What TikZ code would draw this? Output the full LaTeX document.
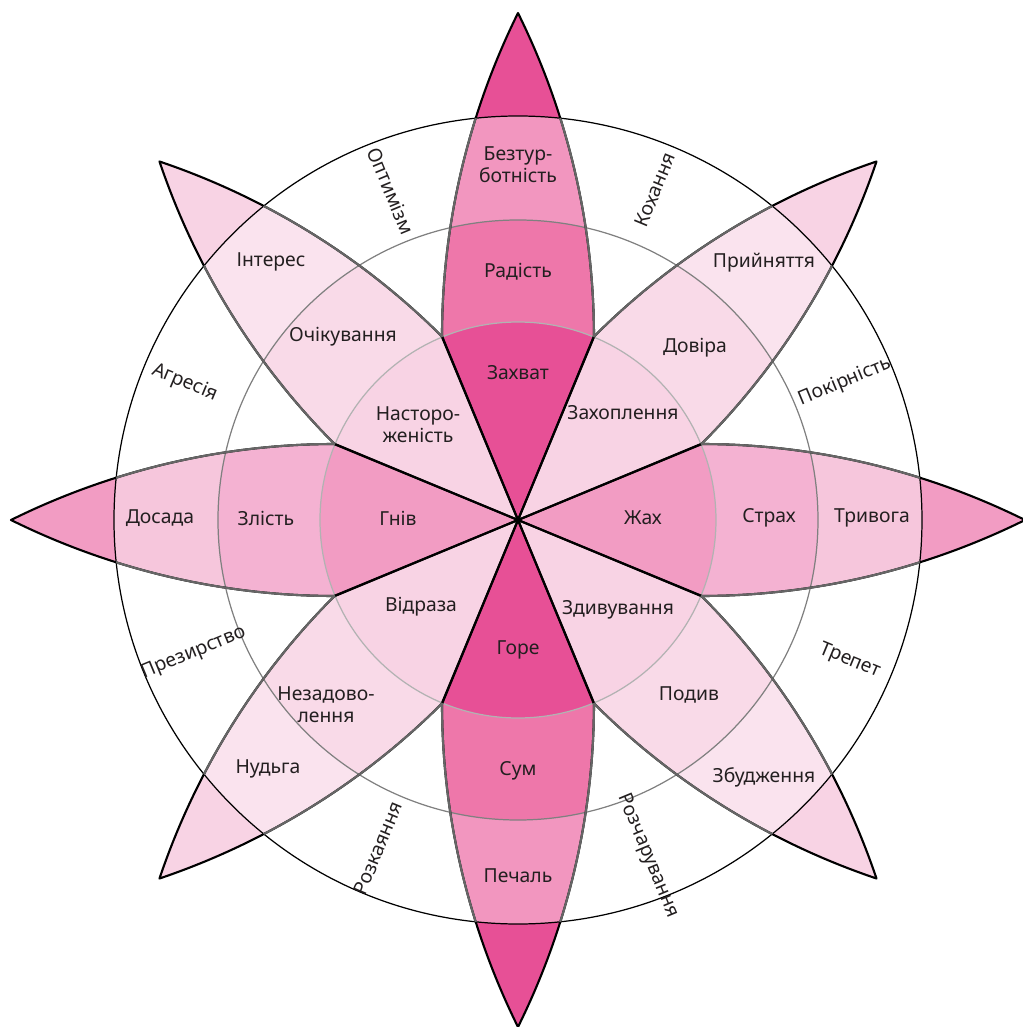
\documentclass[tikz,border=0pt]{standalone}
\usepackage{fontspec}
\setmainfont{Noto Sans}
\definecolor{ink}{HTML}{231F20}
\definecolor{vertA}{HTML}{E75096}
\definecolor{vertB}{HTML}{EE77AA}
\definecolor{vertC}{HTML}{F296BF}
\definecolor{horA}{HTML}{F29CC3}
\definecolor{horB}{HTML}{F4B2D2}
\definecolor{horC}{HTML}{F6C6DC}
\definecolor{diagA}{HTML}{F8D3E4}
\definecolor{diagB}{HTML}{F9DAE8}
\definecolor{diagC}{HTML}{FAE3EE}
\newcommand{\petal}{(0,0) -- (1.83,0.76) .. controls (2.95,0.76) and (4.06,0.50) .. (5.07,0) .. controls (4.06,-0.50) and (2.95,-0.76) .. (1.83,-0.76) -- cycle}
\newcommand{\petalrim}{(1.83,0.76) .. controls (2.95,0.76) and (4.06,0.50) .. (5.07,0) .. controls (4.06,-0.50) and (2.95,-0.76) .. (1.83,-0.76)}

\begin{document}
\begin{tikzpicture}[
  every node/.style={font=\fontsize{5.5}{6.2}\selectfont, text=ink, align=center, inner sep=0pt},
  edge/.style={line width=0.6pt, line join=round},
  ring/.style={line width=0.35pt}]
  \useasboundingbox (-5.18,-5.07) rectangle (5.05,5.20);
  \foreach \ang/\ci/\cii/\ciii in {90/vertA/vertB/vertC, 270/vertA/vertB/vertC,
      0/horA/horB/horC, 180/horA/horB/horC, 45/diagA/diagB/diagC,
      135/diagA/diagB/diagC, 225/diagA/diagB/diagC, 315/diagA/diagB/diagC} {
    \begin{scope}[rotate=\ang]
      \fill[\ci] \petal;
      \begin{scope}
        \clip \petal;
        \fill[\ciii] (0,0) circle (4.04);
        \fill[\cii] (0,0) circle (3.00);
        \fill[\ci] (0,0) circle (1.98);
      \end{scope}
    \end{scope}
  }
  \draw[ring, black!30] (0,0) circle (1.98);
  \draw[ring, black!50] (0,0) circle (3.00);
  \draw[ring, black] (0,0) circle (4.04);
  \foreach \ang in {0,45,...,315}
    \draw[edge, black, rotate=\ang] \petal;
  \begin{scope}
    \clip (0,0) circle (4.04);
    \foreach \ang in {0,45,...,315}
      \draw[edge, black!60, rotate=\ang] \petalrim;
  \end{scope}

  \node (serenity) at (0,3.55) {Безтур-\\ботність};
  \node (joy) at (0,2.48) {Радість};
  \node (ecstasy) at (0,1.47) {Захват};
  \node (vigilance) at (-1.00,0.95) {Насторо-\\женість};
  \node (anticipation) at (-1.75,1.83) {Очікування};
  \node (interest) at (-2.47,2.58) {Інтерес};
  \node (admiration) at (1.05,1.07) {Захоплення};
  \node (trust) at (1.77,1.72) {Довіра};
  \node (acceptance) at (2.46,2.57) {Прийняття};
  \node (rage) at (-1.20,0.02) {Гнів};
  \node (anger) at (-2.52,0.02) {Злість};
  \node (annoyance) at (-3.58,0.02) {Досада};
  \node (terror) at (1.25,0.02) {Жах};
  \node (fear) at (2.51,0.02) {Страх};
  \node (apprehension) at (3.54,0.02) {Тривога};
  \node (loathing) at (-0.97,-0.87) {Відраза};
  \node (disgust) at (-1.92,-1.85) {Незадово-\\лення};
  \node (boredom) at (-2.50,-2.49) {Нудьга};
  \node (grief) at (0,-1.30) {Горе};
  \node (sadness) at (0,-2.51) {Сум};
  \node (pensiveness) at (0,-3.56) {Печаль};
  \node (amazement) at (1.00,-0.90) {Здивування};
  \node (surprise) at (1.71,-1.75) {Подив};
  \node (distraction) at (2.46,-2.57) {Збудження};

  \node[rotate=-67.5] (optimism) at (-1.27,3.29) {Оптимізм};
  \node[rotate=67.5] (love) at (1.37,3.30) {Кохання};
  \node[rotate=22.5] (submission) at (3.27,1.38) {Покірність};
  \node[rotate=-22.5] (awe) at (3.32,-1.41) {Трепет};
  \node[rotate=-67.5] (disapproval) at (1.30,-3.36) {Розчарування};
  \node[rotate=67.5] (remorse) at (-1.40,-3.28) {Розкаяння};
  \node[rotate=22.5] (contempt) at (-3.24,-1.33) {Презирство};
  \node[rotate=-22.5] (aggressiveness) at (-3.33,1.37) {Агресія};
\end{tikzpicture}
\end{document}
